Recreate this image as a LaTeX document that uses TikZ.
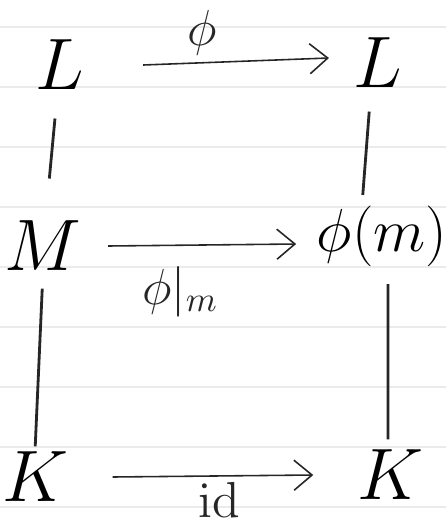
\documentclass[tikz,border=0pt]{standalone}
\usepackage{amsmath,amssymb}
\usepackage{xcolor}
\usepackage{tikz}
\usetikzlibrary{arrows.meta}

\begin{document}
\begin{tikzpicture}[
  x=0.01cm, y=-0.01cm,
  obj/.style={inner sep=0pt, font=\fontsize{20}{24}\selectfont},
  img/.style={inner sep=0pt, font=\fontsize{16}{19}\selectfont},
  lbl/.style={inner sep=0pt, font=\fontsize{14}{17}\selectfont},
  map/.style={-{Straight Barb[length=1.8mm, width=3mm]}, line width=0.45pt, black!85},
  incl/.style={line width=0.8pt, black!85},
  rule/.style={line width=0.4pt, black!8}
]
\useasboundingbox (0,0) rectangle (446,527);

% ruled paper
\foreach \y in {27,87,...,507}
  \draw[rule] (0,\y) -- (446,\y);

% objects
\node[obj] (L1) at (60,65) {$L$};
\node[obj] (L2) at (378,63) {$L$};
\node[obj] (M) at (43,246) {$M$};
\node[img] (phim) at (382,236) {$\phi(m)$};
\node[obj] (K1) at (35,477) {$K$};
\node[obj] (K2) at (390,475) {$K$};

% maps
\draw[map] ([xshift=0.58cm]L1.east) -- node[lbl, pos=0.32, above=0.07cm] (phi) {$\phi$} ([xshift=-0.24cm, yshift=0.05cm]L2.west);
\draw[map] ([xshift=0.26cm]M.east) -- node[lbl, pos=0.385, below=0.2cm] (res) {$\phi|_m$} ([xshift=-0.2cm, yshift=-0.08cm]phim.west);
\draw[map] ([xshift=0.44cm]K1.east) -- node[lbl, pos=0.53, below=0.06cm] (id) {$\mathrm{id}$} ([xshift=-0.43cm]K2.west);

% inclusions
\draw[incl, shorten <=0.28cm, shorten >=0.42cm] (L1) -- (M);
\draw[incl, shorten <=0.23cm, shorten >=0.1cm] ([xshift=-0.07cm]L2.south) -- ([xshift=-0.2cm]phim.north);
\draw[incl, shorten <=0.17cm, shorten >=0.05cm] (M.south) -- (K1.north);
\draw[incl, shorten <=0.17cm, shorten >=0.1cm] ([xshift=0.06cm]phim.south) -- ([xshift=-0.02cm]K2.north);
\end{tikzpicture}
\end{document}
